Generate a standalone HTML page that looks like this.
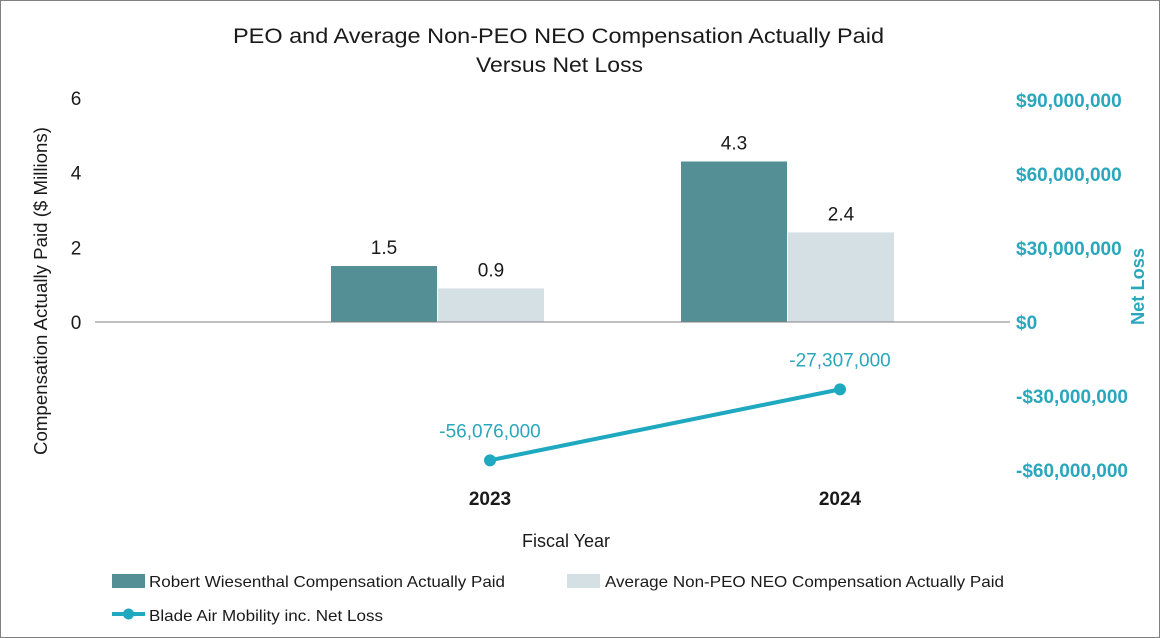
<!DOCTYPE html>
<html><head><meta charset="utf-8"><style>
body{margin:0;background:#fff}
svg{display:block;font-family:"Liberation Sans",Arial,sans-serif}
</style></head><body>
<svg id="chart" width="1160" height="638" viewBox="0 0 1160 638">
<rect x="0.5" y="0.5" width="1159" height="637" fill="#fff" stroke="#808080"/>
<text x="233" y="43" font-size="21" textLength="651" lengthAdjust="spacingAndGlyphs" fill="#1a1a1a">PEO and Average Non-PEO NEO Compensation Actually Paid</text>
<text x="476" y="72" font-size="21" textLength="167" lengthAdjust="spacingAndGlyphs" fill="#1a1a1a">Versus Net Loss</text>
<text transform="translate(47,455) rotate(-90)" font-size="18" textLength="328" lengthAdjust="spacingAndGlyphs" fill="#1a1a1a">Compensation Actually Paid ($ Millions)</text>
<text transform="translate(1144,325) rotate(-90)" font-size="18" font-weight="bold" textLength="77" lengthAdjust="spacingAndGlyphs" fill="#2aa7bc">Net Loss</text>
<text x="566" y="547" font-size="18" text-anchor="middle" fill="#1a1a1a">Fiscal Year</text>
<g id="left-ticks"></g><g id="right-ticks"></g><g id="bars"></g><g id="line"></g><g id="xlabels"></g>
<line x1="95" y1="322" x2="1010" y2="322" stroke="#808080" stroke-width="1"/>
<g>
<rect x="112" y="574" width="33" height="14" fill="#558f96"/>
<text x="149" y="587" font-size="16" textLength="356" lengthAdjust="spacingAndGlyphs" fill="#1a1a1a">Robert Wiesenthal Compensation Actually Paid</text>
<rect x="567" y="574" width="33" height="14" fill="#d5e0e5"/>
<text x="605" y="587" font-size="16" textLength="399" lengthAdjust="spacingAndGlyphs" fill="#1a1a1a">Average Non-PEO NEO Compensation Actually Paid</text>
<line x1="112" y1="614" x2="145" y2="614" stroke="#1fa9c0" stroke-width="4"/>
<circle cx="128.5" cy="614" r="5.5" fill="#1fa9c0"/>
<text x="149" y="621" font-size="16" textLength="234" lengthAdjust="spacingAndGlyphs" fill="#1a1a1a">Blade Air Mobility inc. Net Loss</text>
</g>
</svg>
<script>
const years = ["2023","2024"];
const peoValues = [1.5, 4.3];
const neoValues = [0.9, 2.4];
const netLoss = [-56076000, -27307000];
const leftTicks = [0,2,4,6];
const rightTicks = [90000000,60000000,30000000,0,-30000000,-60000000];
const rightTickLabels = ["$90,000,000","$60,000,000","$30,000,000","$0","-$30,000,000","-$60,000,000"];
const netLossLabels = ["-56,076,000","-27,307,000"];

const NS="http://www.w3.org/2000/svg";
const yL = v => 322 - v*37.33;
const yR = v => 322 - v*(74/30000000);
const xC = i => 490 + 350*i;
function mk(tag, attrs, parent, txt){const e=document.createElementNS(NS,tag);for(const k in attrs)e.setAttribute(k,attrs[k]);if(txt!==undefined)e.textContent=txt;document.getElementById(parent).appendChild(e);return e;}

leftTicks.forEach(t=>{
  const e=mk("text",{x:76,y:yL(t)+7,"font-size":19,"text-anchor":"middle",fill:"#1a1a1a"},"left-ticks",String(t));
  
  
});
rightTicks.forEach((t,i)=>{
  const e=mk("text",{x:1016,y:yR(t)+7,"font-size":19,"font-weight":"bold",fill:"#2aa7bc"},"right-ticks",rightTickLabels[i]);
  
  
});
years.forEach((y,i)=>{
  const c=xC(i);
  const b1=mk("rect",{x:c-159,y:yL(peoValues[i]),width:106,height:322-yL(peoValues[i]),fill:"#558f96"},"bars");
  
  
  const t1=mk("text",{x:c-106,y:yL(peoValues[i])-12,"font-size":19,"text-anchor":"middle",fill:"#1a1a1a"},"bars",peoValues[i].toFixed(1));
  
  
  const b2=mk("rect",{x:c-52,y:yL(neoValues[i]),width:106,height:322-yL(neoValues[i]),fill:"#d5e0e5"},"bars");
  
  
  const t2=mk("text",{x:c+1,y:yL(neoValues[i])-12,"font-size":19,"text-anchor":"middle",fill:"#1a1a1a"},"bars",neoValues[i].toFixed(1));
  
  
  const xl=mk("text",{x:c,y:505,"font-size":19,"font-weight":"bold","text-anchor":"middle",fill:"#1a1a1a"},"xlabels",y);
  
  
});
const pts=netLoss.map((v,i)=>xC(i)+","+yR(v)).join(" ");
const pl=mk("polyline",{points:pts,fill:"none",stroke:"#1fa9c0","stroke-width":4},"line");


netLoss.forEach((v,i)=>{
  const c=mk("circle",{cx:xC(i),cy:yR(v),r:6,fill:"#1fa9c0"},"line");
  
  
  const t=mk("text",{x:xC(i),y:yR(v)-23,"font-size":19,"text-anchor":"middle",fill:"#2aa7bc"},"line",netLossLabels[i]);
  
  
});
</script>
</body></html>
